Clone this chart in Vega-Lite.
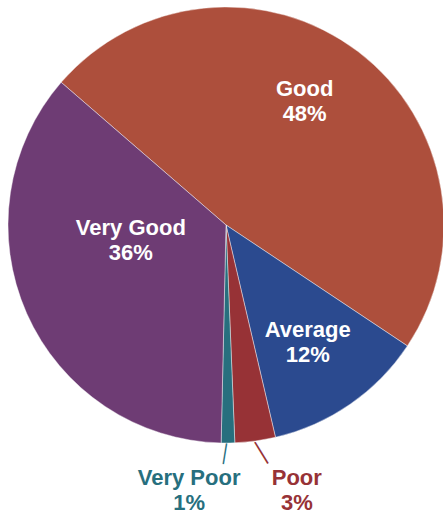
{
  "$schema": "https://vega.github.io/schema/vega-lite/v6.json",
  "width": 452,
  "height": 450,
  "autosize": "none",
  "padding": {"left": 0, "top": 0, "right": 0, "bottom": 66},
  "background": "#ffffff",
  "config": {"view": {"stroke": null}},
  "data": {
    "values": [
      {"cat": "Good", "pct": 48, "ord": 1},
      {"cat": "Average", "pct": 12, "ord": 2},
      {"cat": "Poor", "pct": 3, "ord": 3},
      {"cat": "Very Poor", "pct": 1, "ord": 4},
      {"cat": "Very Good", "pct": 36, "ord": 5}
    ]
  },
  "transform": [
    {"calculate": "datum.cat + '\\n' + datum.pct + '%'", "as": "label"}
  ],
  "encoding": {
    "theta": {"field": "pct", "type": "quantitative", "stack": true, "scale": {"domain": [0, 100], "range": [5.426, 11.709]}},
    "order": {"field": "ord", "type": "quantitative"},
    "detail": {"field": "cat", "type": "nominal"}
  },
  "layer": [
    {
      "mark": {"type": "arc", "outerRadius": 218, "stroke": "#ffffff", "strokeWidth": 0.6, "strokeOpacity": 0.7},
      "encoding": {
        "color": {
          "field": "cat", "type": "nominal", "legend": null,
          "scale": {"domain": ["Good", "Average", "Poor", "Very Poor", "Very Good"], "range": ["#AD4F3C", "#2B4A8F", "#973236", "#276F7E", "#6E3C74"]}
        }
      }
    },
    {
      "mark": {"type": "text", "radius": 148, "dx": -11, "dy": -18.5, "font": "Liberation Sans", "fontWeight": "bold", "fontSize": 22, "lineHeight": 25, "lineBreak": "\n", "fill": "#ffffff", "align": "center", "baseline": "middle"},
      "encoding": {"text": {"condition": {"test": "datum.cat === 'Good'", "field": "label", "type": "nominal"}, "value": ""}}
    },
    {
      "mark": {"type": "text", "radius": 143.4, "dy": -12.5, "font": "Liberation Sans", "fontWeight": "bold", "fontSize": 22, "lineHeight": 25, "lineBreak": "\n", "fill": "#ffffff", "align": "center", "baseline": "middle"},
      "encoding": {"text": {"condition": {"test": "datum.cat === 'Average'", "field": "label", "type": "nominal"}, "value": ""}}
    },
    {
      "mark": {"type": "text", "radius": 96, "dx": -7.4, "dy": -35.6, "font": "Liberation Sans", "fontWeight": "bold", "fontSize": 22, "lineHeight": 25, "lineBreak": "\n", "fill": "#ffffff", "align": "center", "baseline": "middle"},
      "encoding": {"text": {"condition": {"test": "datum.cat === 'Very Good'", "field": "label", "type": "nominal"}, "value": ""}}
    },
    {
      "mark": {"type": "text", "radius": 265.5, "dx": -39.3, "dy": -12.5, "font": "Liberation Sans", "fontWeight": "bold", "fontSize": 22, "lineHeight": 25, "lineBreak": "\n", "fill": "#276F7E", "align": "center", "baseline": "middle"},
      "encoding": {"text": {"condition": {"test": "datum.cat === 'Very Poor'", "field": "label", "type": "nominal"}, "value": ""}}
    },
    {
      "mark": {"type": "text", "radius": 267.9, "dx": 34.8, "dy": -12.5, "font": "Liberation Sans", "fontWeight": "bold", "fontSize": 22, "lineHeight": 25, "lineBreak": "\n", "fill": "#973236", "align": "center", "baseline": "middle"},
      "encoding": {"text": {"condition": {"test": "datum.cat === 'Poor'", "field": "label", "type": "nominal"}, "value": ""}}
    },
    {
      "mark": {"type": "text", "radius": 230.3, "angle": 58.4, "dx": 1.9, "dy": -5.7, "font": "Liberation Sans", "fontSize": 25, "fill": "#973236", "align": "center", "baseline": "middle"},
      "encoding": {"text": {"condition": {"test": "datum.cat === 'Poor'", "value": "—"}, "value": ""}}
    },
    {
      "mark": {"type": "text", "radius": 228.7, "angle": 99.1, "dx": 0.6, "dy": 2.4, "font": "Liberation Sans", "fontSize": 21, "fill": "#276F7E", "align": "center", "baseline": "middle"},
      "encoding": {"text": {"condition": {"test": "datum.cat === 'Very Poor'", "value": "—"}, "value": ""}}
    }
  ]
}
